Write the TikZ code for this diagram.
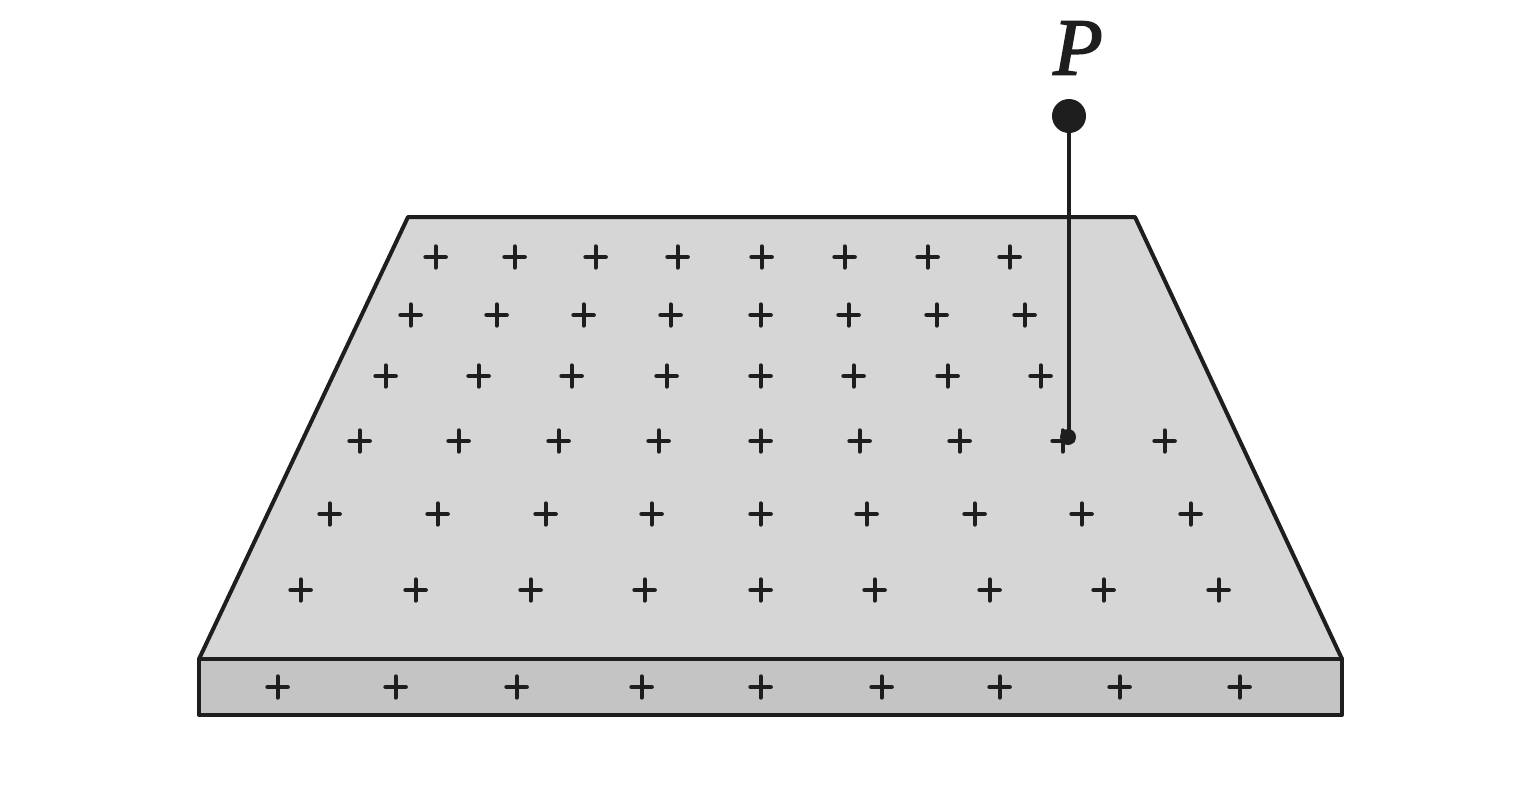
\documentclass[tikz,border=0pt]{standalone}
\usepackage{fontspec}
\setmainfont{Liberation Serif}
\definecolor{inkc}{HTML}{1E1E1E}
\definecolor{topc}{HTML}{D6D6D6}
\definecolor{frontc}{HTML}{C4C4C4}
\tikzset{
  slabface/.style={draw=inkc,line width=4pt,line join=round},
  plusstroke/.style={draw=inkc,line width=4.2pt,line cap=round},
  pic plus/.pic={\draw[plusstroke] (-10.2,0)--(10.2,0) (0,-10.6)--(0,10.6);},
  dotnode/.style={circle,fill=inkc,inner sep=0pt,minimum size=#1},
  stemline/.style={draw=inkc,line width=4.6pt}
}
\newcommand{\plusrow}[2]{\foreach \xx in {#2}{\pic at ({\xx+0.6},#1) {pic plus};}}
\begin{document}
\begin{tikzpicture}[x=1pt,y=-1pt]
\useasboundingbox (0,0) rectangle (1536,804);
\fill[white] (0,0) rectangle (1536,804);
\draw[slabface,fill=topc] (408,217)--(1135,217)--(1342,659)--(199,659)--cycle;
\draw[slabface,fill=frontc] (199,659)--(1342,659)--(1342,715)--(199,715)--cycle;
\plusrow{257}{435,514,595,677,761,844,927,1009}
\plusrow{315}{410,496,583,670,760,848,936,1024}
\plusrow{376}{385,478,571,666,760,853,947,1040}
\plusrow{441}{359,458,558,658,760,859,959,1062,1164}
\plusrow{514}{329,437,545,651,760,866,974,1081,1190}
\plusrow{590}{300,415,530,644,760,874,989,1103,1218}
\plusrow{687}{277,395,516,641,760,881,999,1119,1239}
\node[dotnode=34pt] (top) at (1069,116) {};
\node[dotnode=16pt] (foot) at (1068,437) {};
\draw[stemline] (top) -- (top |- foot);
\node[inner sep=0pt,text=inkc,font=\fontsize{81}{81}\selectfont\itshape] (P) at (1078,48) {\special{pdf:code q 2 Tr 1.6 w}P\special{pdf:code Q}};
\end{tikzpicture}
\end{document}
